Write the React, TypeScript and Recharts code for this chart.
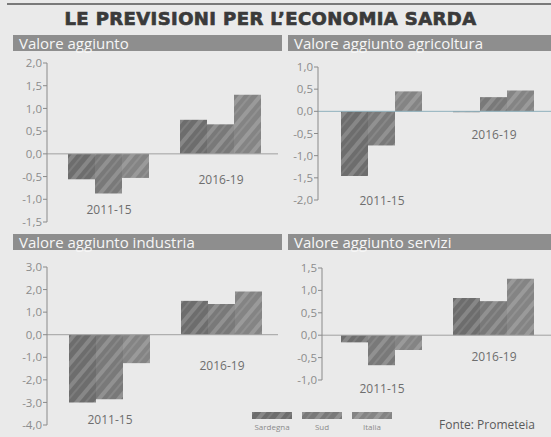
import { BarChart, Bar, XAxis, YAxis, ReferenceLine, ReferenceDot } from 'recharts'

const periods = ['2011-15', '2016-19']
const seriesNames = ['Sardegna', 'Sud', 'Italia']

// Valore aggiunto
const vaSardegna = [-0.56, 0.75]
const vaSud = [-0.87, 0.65]
const vaItalia = [-0.53, 1.3]
const vaTicks = [-1.5, -1, -0.5, 0, 0.5, 1, 1.5, 2]

// Valore aggiunto agricoltura
const agrSardegna = [-1.46, -0.02]
const agrSud = [-0.77, 0.32]
const agrItalia = [0.45, 0.47]
const agrTicks = [-2, -1.5, -1, -0.5, 0, 0.5, 1]

// Valore aggiunto industria
const indSardegna = [-3.0, 1.5]
const indSud = [-2.86, 1.36]
const indItalia = [-1.26, 1.92]
const indTicks = [-4, -3, -2, -1, 0, 1, 2, 3]

// Valore aggiunto servizi
const serSardegna = [-0.16, 0.83]
const serSud = [-0.67, 0.76]
const serItalia = [-0.33, 1.26]
const serTicks = [-1, -0.5, 0, 0.5, 1, 1.5]

const BG = '#eaeaea'
const HEADER = '#8e8e8e'
const AXIS = '#8a8a8a'
const FONT = '"Open Sans", "Noto Sans", sans-serif'
const barColors = ['#6d6d6d', '#797979', '#848484']

function buildRows(sard: number[], sud: number[], ita: number[]) {
  return periods.map((period, i) => ({
    period,
    Sardegna: sard[i],
    Sud: sud[i],
    Italia: ita[i],
  }))
}

function Stripes({ prefix }: { prefix: string }) {
  return (
    <defs>
      {seriesNames.map((name, i) => (
        <pattern
          key={name}
          id={`${prefix}-${name}`}
          patternUnits="userSpaceOnUse"
          width={15}
          height={15}
          patternTransform="rotate(40)"
        >
          <rect width={15} height={15} fill={barColors[i]} />
          <rect x={0} width={4} height={15} fill="#ffffff" opacity={0.18} />
          <rect x={8} width={2} height={15} fill="#ffffff" opacity={0.1} />
        </pattern>
      ))}
    </defs>
  )
}

type PanelProps = {
  id: string
  title: string
  rows: ReturnType<typeof buildRows>
  ticks: number[]
  axisX: number
  plotTop: number
  plotBottom: number
  plotRight: number
  padLeft: number
  headerLeft: number
  headerRight: number
  headerTop: number
  labelGaps: number[]
  zeroColor?: string
}

function Panel(p: PanelProps) {
  const yAxisWidth = 47
  const left = p.axisX - yAxisWidth
  const margin = { top: 10, right: 0, bottom: 40, left: 0 }
  const width = p.plotRight - left
  const height = p.plotBottom - p.plotTop + margin.top + margin.bottom
  const plotWidth = p.plotRight - p.axisX
  const padRight = Math.max(0, plotWidth - p.padLeft - 224)
  const domain = [p.ticks[0], p.ticks[p.ticks.length - 1]]

  return (
    <>
      <div
        style={{
          position: 'absolute',
          left: p.headerLeft,
          top: p.headerTop,
          width: p.headerRight - p.headerLeft,
          height: 16,
          background: HEADER,
          color: '#f6f6f6',
          fontFamily: FONT,
          fontSize: 15,
          lineHeight: '16px',
          paddingLeft: 6,
          boxSizing: 'border-box',
          whiteSpace: 'nowrap',
        }}
      >
        {p.title}
      </div>
      <div style={{ position: 'absolute', left, top: p.plotTop - margin.top }}>
        <BarChart
          width={width}
          height={height}
          data={p.rows}
          margin={margin}
          barGap={0}
          barCategoryGap={15}
        >
          <Stripes prefix={p.id} />
          <XAxis dataKey="period" hide padding={{ left: p.padLeft, right: padRight }} />
          <YAxis
            width={yAxisWidth}
            domain={domain}
            ticks={p.ticks}
            interval={0}
            allowDataOverflow
            tickSize={4}
            tickMargin={1}
            axisLine={{ stroke: AXIS }}
            tickLine={{ stroke: AXIS }}
            tick={{ fill: '#8c8c8c', fontSize: 11.5, fontFamily: FONT }}
            tickFormatter={(v: number) => v.toFixed(1).replace('.', ',')}
          />
          <ReferenceLine y={0} stroke={p.zeroColor ?? '#a0a0a0'} strokeWidth={1} />
          {seriesNames.map((name) => (
            <Bar
              key={name}
              dataKey={name}
              fill={`url(#${p.id}-${name})`}
              isAnimationActive={false}
            />
          ))}
          {p.rows.map((row, i) => (
            <ReferenceDot
              key={row.period}
              x={row.period}
              y={Math.min(0, row.Sardegna, row.Sud, row.Italia)}
              r={0}
              shape={(s: { cx?: number; cy?: number }) => (
                <text
                  x={s.cx}
                  y={(s.cy ?? 0) + p.labelGaps[i] + 4}
                  textAnchor="middle"
                  fill="#6e6e6e"
                  fontSize={12}
                  fontFamily={FONT}
                >
                  {row.period}
                </text>
              )}
            />
          ))}
        </BarChart>
      </div>
    </>
  )
}

export default function App() {
  return (
    <div
      style={{
        position: 'relative',
        width: 551,
        height: 437,
        background: BG,
        overflow: 'hidden',
        fontFamily: FONT,
      }}
    >
      <style>{'body{margin:0}'}</style>
      <div style={{ position: 'absolute', left: 7, right: 0, top: 3, height: 2, background: '#7a7a7a' }} />
      <div
        style={{
          position: 'absolute',
          left: 0,
          width: 551,
          top: 8,
          textAlign: 'center',
          fontFamily: '"DejaVu Sans", sans-serif',
          fontWeight: 900,
          fontSize: 18,
          letterSpacing: 0.4,
          WebkitTextStroke: '0.7px #3a3a3a',
          lineHeight: '22px',
          color: '#3a3a3a',
          paddingRight: 10,
          boxSizing: 'border-box',
        }}
      >
        LE PREVISIONI PER L’ECONOMIA SARDA
      </div>

      <Panel
        id="va"
        title="Valore aggiunto"
        rows={buildRows(vaSardegna, vaSud, vaItalia)}
        ticks={vaTicks}
        axisX={47}
        plotTop={63}
        plotBottom={222}
        plotRight={278}
        padLeft={6}
        headerLeft={13}
        headerRight={282}
        headerTop={35}
        labelGaps={[17, 26]}
      />
      <Panel
        id="agr"
        title="Valore aggiunto agricoltura"
        rows={buildRows(agrSardegna, agrSud, agrItalia)}
        ticks={agrTicks}
        axisX={318}
        plotTop={67}
        plotBottom={200}
        plotRight={551}
        padLeft={8}
        headerLeft={288}
        headerRight={551}
        headerTop={35}
        labelGaps={[25, 23]}
        zeroColor="#8fb0bc"
      />
      <Panel
        id="ind"
        title="Valore aggiunto industria"
        rows={buildRows(indSardegna, indSud, indItalia)}
        ticks={indTicks}
        axisX={47}
        plotTop={267}
        plotBottom={425}
        plotRight={278}
        padLeft={7}
        headerLeft={13}
        headerRight={282}
        headerTop={234}
        labelGaps={[18, 31]}
      />
      <Panel
        id="ser"
        title="Valore aggiunto servizi"
        rows={buildRows(serSardegna, serSud, serItalia)}
        ticks={serTicks}
        axisX={322}
        plotTop={268}
        plotBottom={380}
        plotRight={551}
        padLeft={4}
        headerLeft={288}
        headerRight={551}
        headerTop={234}
        labelGaps={[24, 22]}
      />

      <svg width={551} height={437} style={{ position: 'absolute', left: 0, top: 0, pointerEvents: 'none' }}>
        <Stripes prefix="legend" />
        {seriesNames.map((name, i) => (
          <g key={name}>
            <rect x={252 + i * 50} y={412} width={40} height={7} fill={`url(#legend-${name})`} />
            <text
              x={272 + i * 50}
              y={430}
              textAnchor="middle"
              fill="#8a8a8a"
              fontSize={8}
              fontFamily={FONT}
            >
              {name}
            </text>
          </g>
        ))}
        <text x={535} y={429} textAnchor="end" fill="#5a5a5a" fontSize={12} fontFamily={FONT}>
          Fonte: Prometeia
        </text>
      </svg>
    </div>
  )
}
